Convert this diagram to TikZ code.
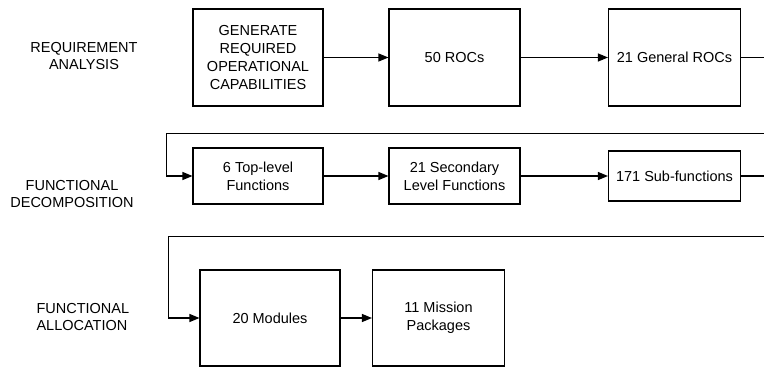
\documentclass[tikz,border=0pt]{standalone}
\usepackage{fontspec}
\setmainfont{Liberation Sans}
\usetikzlibrary{arrows.meta}

\begin{document}
\begin{tikzpicture}[x=1pt, y=-1pt,
  box/.style={draw, line width=1.1pt, inner sep=2pt, align=center, font=\fontsize{14.5}{18}\selectfont},
  lbl/.style={align=center, font=\fontsize{14.5}{17}\selectfont},
  arr/.style={-{Triangle[length=10pt,width=8pt]}, line width=1.1pt},
  ln/.style={line width=1.1pt},
]
\useasboundingbox (0,0) rectangle (764,367);

% phase labels
\node[lbl] (reqlbl) at (84,56) {REQUIREMENT\\ANALYSIS};
\node[lbl] (declbl) at (72,194) {FUNCTIONAL\\DECOMPOSITION};
\node[lbl, align=left, anchor=west] (alllbl) at (33,317) {FUNCTIONAL\\ALLOCATION};

% row 1
\node[box, minimum width=130pt, minimum height=97pt] (gen)     at (258,57.5)   {GENERATE\\REQUIRED\\OPERATIONAL\\CAPABILITIES};
\node[box, minimum width=131pt, minimum height=97pt] (rocs)    at (454.5,57.5) {50 ROCs};
\node[box, minimum width=132pt, minimum height=97pt] (genrocs) at (674.5,57.5) {21 General ROCs};

% row 2
\node[box, minimum width=130pt, minimum height=56pt] (toplvl) at (258,176)   {6 Top-level\\Functions};
\node[box, minimum width=131pt, minimum height=56pt] (second) at (454.5,176) {21 Secondary\\Level Functions};
\node[box, minimum width=132pt, minimum height=50pt] (subfn)  at (674.5,176) {171 Sub-functions};

% row 3
\node[box, minimum width=140pt, minimum height=96pt] (modules) at (270,318)   {20 Modules};
\node[box, minimum width=132pt, minimum height=96pt] (mission) at (438.5,318) {11 Mission\\Packages};

% free ends at the right edge
\coordinate (out1) at (764,57.5);
\coordinate (in2)  at (764,133.3);
\coordinate (bend2) at (166.7,133.3);
\coordinate (out2) at (764,176);
\coordinate (in3)  at (764,236.7);
\coordinate (bend3) at (168.3,236.7);

\draw[arr] (gen) -- (rocs);
\draw[arr] (rocs) -- (genrocs);
\draw[ln] (genrocs) -- (out1);

\draw[arr] (in2) -- (bend2) |- (toplvl.west);
\draw[arr] (toplvl) -- (second);
\draw[arr] (second) -- (subfn);
\draw[ln] (subfn) -- (out2);

\draw[arr] (in3) -- (bend3) |- (modules.west);
\draw[arr] (modules) -- (mission);
\end{tikzpicture}
\end{document}
